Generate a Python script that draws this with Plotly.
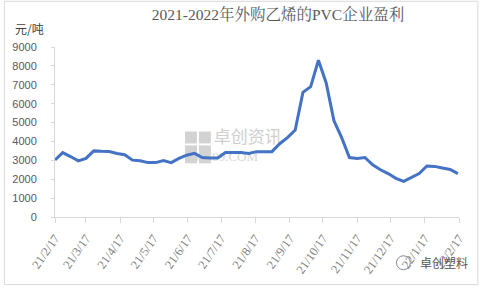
import plotly.graph_objects as go
import pandas as pd

start = "2021-02-17"
values = [3020, 3410, 3200, 2970, 3100, 3500, 3480, 3470, 3360, 3300,
          3010, 2980, 2880, 2880, 2990, 2880, 3100, 3270, 3370, 3150,
          3130, 3130, 3410, 3410, 3410, 3360, 3460, 3460, 3460, 3880,
          4200, 4600, 6600, 6900, 8300, 7100, 5100, 4200, 3150, 3100,
          3150, 2760, 2500, 2300, 2050, 1890, 2100, 2300, 2700, 2680,
          2590, 2520, 2300]
dates = pd.date_range(start, periods=len(values), freq="7D")

tick_dates = ["2021-02-17", "2021-03-17", "2021-04-17", "2021-05-17", "2021-06-17",
              "2021-07-17", "2021-08-17", "2021-09-17", "2021-10-17", "2021-11-17",
              "2021-12-17", "2022-01-17", "2022-02-17"]
tick_labels = ["21/2/17", "21/3/17", "21/4/17", "21/5/17", "21/6/17", "21/7/17",
               "21/8/17", "21/9/17", "21/10/17", "21/11/17", "21/12/17", "22/1/17", "22/2/17"]
y_ticks = list(range(0, 9001, 1000))

title = "2021-2022年外购乙烯的PVC企业盈利"
unit = "元/吨"
wm_cn = "卓创资讯"
wm_en = "SCI99.COM"
brand = "卓创塑料"

L, R, T, B = 52, 21, 47, 70
W, H = 480, 288
pw, ph = W - L - R, H - T - B
t0 = pd.Timestamp(tick_dates[0])
t1 = pd.Timestamp(tick_dates[-1])

def px(x):
    return (x - L) / pw

def py(y):
    return (H - B - y) / ph

def dx(x):
    return t0 + (t1 - t0) * ((x - L) / pw)

def dy(y):
    return (H - B - y) / ph * 9000

fig = go.Figure()
# watermark (below the line)
fig.add_trace(go.Scatter(x=[dx(212)], y=[dy(139)], mode="text", text=[wm_cn],
                         textposition="middle right", hoverinfo="skip",
                         textfont=dict(family="Noto Sans CJK SC", size=17, color="#cfcfcf")))
fig.add_trace(go.Scatter(x=[dx(190)], y=[dy(158)], mode="text", text=[wm_en],
                         textposition="middle right", hoverinfo="skip",
                         textfont=dict(family="Liberation Serif", size=13, color="#d6d6d6")))
fig.add_trace(go.Scatter(x=dates, y=values, mode="lines",
                         line=dict(color="#4472C4", width=3), hoverinfo="skip"))

fig.update_layout(
    width=W, height=H,
    margin=dict(l=L, r=R, t=T, b=B),
    paper_bgcolor="white", plot_bgcolor="white",
    showlegend=False,
    title=dict(text=title, x=278 / W, xanchor="center", y=1 - 15 / H, yanchor="middle",
               font=dict(family="Liberation Serif, Noto Serif CJK SC, Noto Sans CJK SC",
                         size=15.5, color="#595959")),
    xaxis=dict(type="date", range=[tick_dates[0], tick_dates[-1]],
               tickvals=tick_dates, ticktext=tick_labels, tickangle=-55,
               showgrid=False, zeroline=False, showline=True, linecolor="#d9d9d9",
               ticks="outside", ticklen=5, tickcolor="#d9d9d9", ticklabelstandoff=3,
               tickfont=dict(family="Liberation Serif", size=12.5, color="#7f7f7f")),
    yaxis=dict(range=[0, 9000], tickvals=y_ticks, showgrid=False, zeroline=False,
               showline=True, linecolor="#d9d9d9", ticks="outside", ticklen=3,
               tickcolor="#d9d9d9", ticklabelstandoff=12,
               tickfont=dict(family="Liberation Sans", size=11, color="#595959")),
)

fig.add_annotation(text=unit, xref="paper", yref="paper", x=px(10), y=py(28),
                   xanchor="left", yanchor="middle", showarrow=False,
                   font=dict(family="Noto Sans CJK SC", size=12, color="#404040"))

for (x0, y0, x1, y1) in [(183, 132, 195, 144), (197, 132, 209, 144), (183, 146, 195, 164), (197, 146, 209, 164)]:
    fig.add_shape(type="rect", xref="paper", yref="paper",
                  x0=px(x0), x1=px(x1), y0=py(y1), y1=py(y0),
                  fillcolor="#d3d3d3", line=dict(width=0), layer="below")

fig.add_annotation(text=brand, xref="paper", yref="paper", x=px(418), y=py(264),
                   xanchor="left", yanchor="middle", showarrow=False,
                   font=dict(family="Noto Sans CJK SC", size=12, color="#555555"))
fig.add_shape(type="circle", xref="paper", yref="paper",
              x0=px(396), x1=px(410), y0=py(271), y1=py(257),
              line=dict(color="#888888", width=1))

fig.add_shape(type="rect", xref="paper", yref="paper",
              x0=px(1), x1=px(478), y0=py(286), y1=py(1),
              line=dict(color="#d9d9d9", width=1))

fig.write_html("out.html")
